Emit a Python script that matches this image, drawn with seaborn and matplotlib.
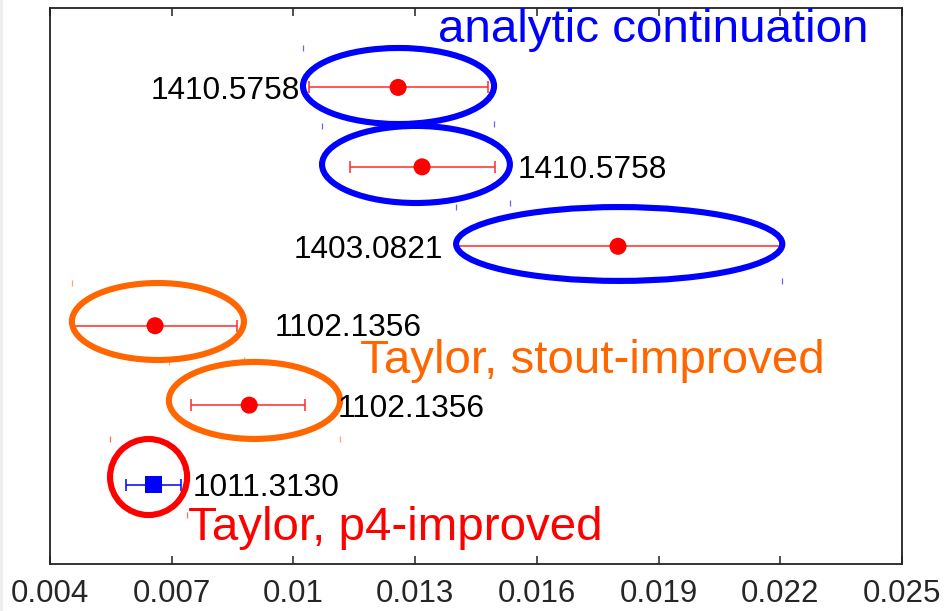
import matplotlib
matplotlib.use("Agg")
import matplotlib.pyplot as plt
from matplotlib.patches import Ellipse, Rectangle
import seaborn as sns
import pandas as pd

# Determinations (top to bottom) with their error ranges
refs = ["1410.5758", "1410.5758", "1403.0821", "1102.1356", "1102.1356", "1011.3130"]
rows = [6, 5, 4, 3, 2, 1]
central = [0.01258, 0.01317, 0.01800, 0.00659, 0.00891, 0.00654]
lower = [0.01038, 0.01139, 0.01406, 0.00457, 0.00748, 0.00587]
upper = [0.01480, 0.01497, 0.02200, 0.00861, 0.01029, 0.00723]
method = ["circle", "circle", "circle", "circle", "circle", "square"]

# Where each reference label sits and how it is anchored
label_x = [0.010162, 0.015535, 0.013687, 0.009546, 0.011099, 0.007525]
label_y = [6.0, 5.0, 4.0, 3.01, 2.0, 1.0]
label_ha = ["right", "left", "right", "left", "left", "left"]

# Group outlines: centre x, centre y, width, height, colour
ell_cx = [0.01259, 0.01302, 0.01803, 0.00666, 0.00904, 0.00643]
ell_cy = [6.018, 5.030, 4.029, 3.053, 2.059, 1.095]
ell_w = [0.00471, 0.00463, 0.00804, 0.00424, 0.00422, 0.00190]
ell_h = [0.957, 0.970, 0.930, 0.969, 0.969, 0.957]
ell_col = ["#0000ff", "#0000ff", "#0000ff", "#ff6600", "#ff6600", "#ff0000"]

# Group titles
group_names = ["analytic continuation", "Taylor, stout-improved", "Taylor, p4-improved"]
group_x = [0.013563, 0.011641, 0.007401]
group_y = [6.572, 2.405, 0.302]
group_col = ["#0000ff", "#ff6600", "#ff0000"]

xticks = [0.004, 0.007, 0.010, 0.013, 0.016, 0.019, 0.022, 0.025]
xtick_labels = ["0.004", "0.007", "0.01", "0.013", "0.016", "0.019", "0.022", "0.025"]

sns.set_theme(style="white")
plt.rcParams["font.family"] = ["Liberation Sans", "DejaVu Sans"]

fig = plt.figure(figsize=(9.48, 6.11), dpi=100)
fig.patches.append(Rectangle((0, 0), 3 / 948, 1, transform=fig.transFigure,
                             facecolor="#eeeeee", edgecolor="none", zorder=0))
ax = fig.add_axes([50 / 948, (611 - 564) / 611, 852 / 948, 556 / 611])

df = pd.DataFrame({"value": central, "row": rows, "method": method,
                   "lo": lower, "hi": upper})

# Error bars
for _, r in df.iterrows():
    col = "#0000ff" if r["method"] == "square" else "#ff2a2a"
    ax.errorbar(r["value"], r["row"],
                xerr=[[r["value"] - r["lo"]], [r["hi"] - r["value"]]],
                fmt="none", ecolor=col, elinewidth=1.1, capsize=4.5,
                capthick=1.1, zorder=2)

sns.scatterplot(data=df, x="value", y="row", hue="method", style="method",
                palette={"circle": "#ff0000", "square": "#0000ff"},
                markers={"circle": "o", "square": "s"}, s=150,
                edgecolor="none", legend=False, ax=ax, zorder=3)

# Outlines around each determination
for cx, cy, w, h, c in zip(ell_cx, ell_cy, ell_w, ell_h, ell_col):
    ax.add_patch(Ellipse((cx, cy), w, h, facecolor="none", edgecolor=c,
                         linewidth=4.4, zorder=4))
    ax.plot([cx - w / 2, cx + w / 2], [cy + h / 2, cy - h / 2], linestyle="none",
            marker="|", markersize=4.5, markeredgewidth=0.9, color=c,
            alpha=0.6, zorder=1)

for x, y, t, ha in zip(label_x, label_y, refs, label_ha):
    ax.text(x, y, t, ha=ha, va="center_baseline", fontsize=22.8, color="black",
            zorder=5)

for t, x, y, c in zip(group_names, group_x, group_y, group_col):
    ax.text(x, y, t, ha="left", va="baseline", fontsize=34.2, color=c, zorder=5)

ax.set_xlim(0.004, 0.025)
ax.set_ylim(0, 7)
ax.set_xticks(xticks)
ax.set_xticklabels(xtick_labels, fontsize=22.5)
ax.set_yticks([])
ax.set_xlabel("")
ax.set_ylabel("")
ax.tick_params(axis="x", which="both", direction="in", length=6, width=1.1,
               color="#222222", top=True, bottom=True, pad=11)
for sp in ax.spines.values():
    sp.set_visible(True)
    sp.set_color("#222222")
    sp.set_linewidth(1.3)

fig.savefig("out.png", dpi=100)
